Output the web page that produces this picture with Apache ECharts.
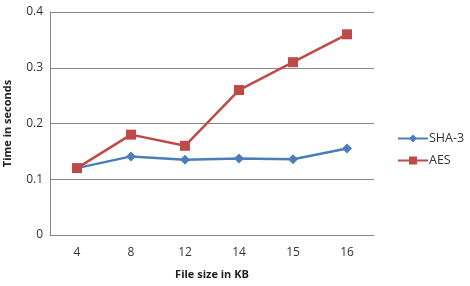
<!DOCTYPE html>
<html>
<head>
<meta charset="utf-8">
<script src="https://cdn.jsdelivr.net/npm/echarts@6/dist/echarts.min.js"></script>
<style>
  html, body { margin: 0; padding: 0; background: #fff; }
  #chart { width: 470px; height: 286px; }
</style>
</head>
<body>
<div id="chart"></div>
<script>
// 数据
var fileSizes = ["4", "8", "12", "14", "15", "16"];
var sha3Times = [0.12, 0.141, 0.135, 0.137, 0.136, 0.155];
var aesTimes = [0.12, 0.18, 0.16, 0.26, 0.31, 0.36];
var yTicks = [0, 0.1, 0.2, 0.3, 0.4];

var chart = echarts.init(document.getElementById("chart"));
var option = {
  animation: false,
  textStyle: { fontFamily: "Open Sans, sans-serif" },
  grid: { left: 50, right: 96, top: 12, bottom: 51, containLabel: false, outerBoundsMode: "none" },
  legend: {
    orient: "vertical",
    left: 392,
    top: 127,
    itemGap: 9,
    itemWidth: 30,
    itemHeight: 10,
    textStyle: { color: "#333", fontSize: 12.5, padding: [0, 0, 0, -4] },
    data: ["SHA-3", "AES"]
  },
  xAxis: {
    type: "category",
    data: fileSizes,
    name: "File size in KB",
    nameLocation: "middle",
    nameGap: 34,
    nameTextStyle: { fontWeight: "bold", fontSize: 11, color: "#222" },
    axisLine: { lineStyle: { color: "#868686" } },
    axisTick: { show: false },
    axisLabel: { color: "#333", fontSize: 12, margin: 12 }
  },
  yAxis: {
    type: "value",
    min: yTicks[0],
    max: yTicks[yTicks.length - 1],
    interval: 0.1,
    name: "Time in seconds",
    nameLocation: "middle",
    nameGap: 37,
    nameTextStyle: { fontWeight: "bold", fontSize: 11, color: "#222" },
    axisLine: { show: true, lineStyle: { color: "#868686" } },
    axisTick: { show: false },
    axisLabel: { color: "#333", fontSize: 12, margin: 7 },
    splitLine: { lineStyle: { color: "#868686" } }
  },
  series: [
    {
      name: "SHA-3",
      type: "line",
      data: sha3Times,
      symbol: "diamond",
      symbolSize: 10,
      lineStyle: { width: 2.5, color: "#4a7ebb" },
      itemStyle: { color: "#4a7ebb" }
    },
    {
      name: "AES",
      type: "line",
      data: aesTimes,
      symbol: "rect",
      symbolSize: 10,
      lineStyle: { width: 2.5, color: "#be4b48" },
      itemStyle: { color: "#be4b48" }
    }
  ]
};
chart.setOption(option);
</script>
</body>
</html>
